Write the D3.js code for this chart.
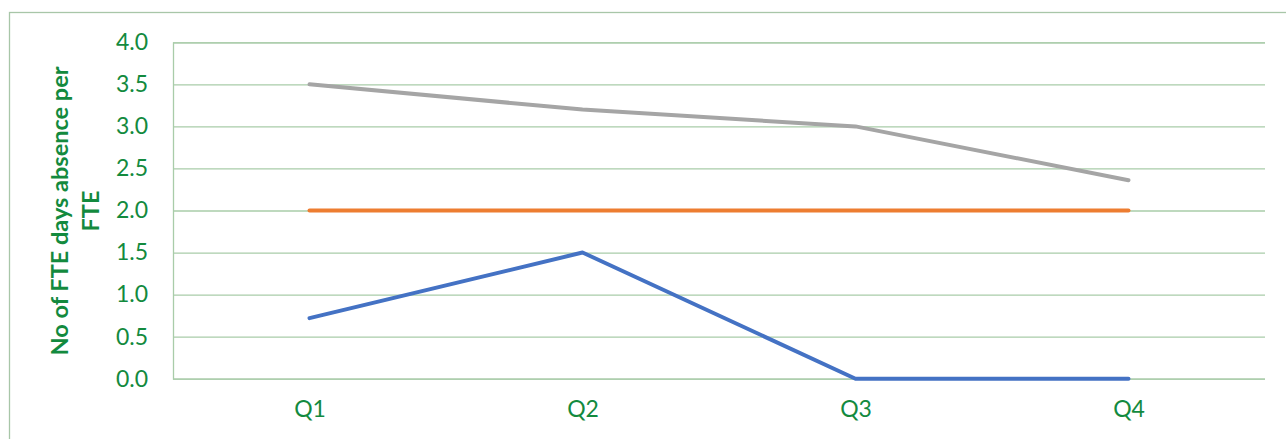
<!DOCTYPE html>
<html>
<head>
<meta charset="utf-8">
<script src="https://cdn.jsdelivr.net/npm/d3@7"></script>
<style>
  html, body { margin: 0; padding: 0; background: #fff; }
  svg { display: block; }
</style>
</head>
<body>
<svg id="chart" width="1286" height="439"></svg>
<script>
// ---- data ----
const categories = ["Q1", "Q2", "Q3", "Q4"];
const seriesBlue = [0.72, 1.5, 0, 0];
const seriesOrange = [2.0, 2.0, 2.0, 2.0];
const seriesGray = [3.5, 3.2, 3.0, 2.36];
const yTicks = [0, 0.5, 1, 1.5, 2, 2.5, 3, 3.5, 4];
const yTitleLines = ["No of FTE days absence per", "FTE"];

// ---- layout ----
const W = 1286, H = 439;
const plot = { left: 173, right: 1265, top: 42.3, bottom: 378.7 };
const textColor = "#138a3e";
const gridColor = "#a9cca9";
const font = "Lato, 'Open Sans', 'Noto Sans', sans-serif";

const svg = d3.select("#chart");

// frame
svg.append("rect")
  .attr("x", 9.5).attr("y", 12.5)
  .attr("width", 1400).attr("height", 600)
  .attr("fill", "none")
  .attr("stroke", "#a8c6a8").attr("stroke-width", 1.3);

const x = d3.scalePoint().domain(categories).range([plot.left, plot.right]).padding(0.5);
const y = d3.scaleLinear().domain([0, 4]).range([plot.bottom, plot.top]);

// gridlines
const yAxis = d3.axisLeft(y).tickValues(yTicks)
  .tickSize(-(plot.right - plot.left)).tickPadding(25)
  .tickFormat(d3.format(".1f"));
const gy = svg.append("g").attr("transform", `translate(${plot.left},0)`).call(yAxis);
gy.select(".domain").attr("stroke", gridColor).attr("stroke-width", 1.3);
gy.selectAll(".tick line").attr("stroke", gridColor).attr("stroke-width", 1.3);
gy.selectAll(".tick text")
  .attr("fill", textColor)
  .style("font-family", font).style("font-size", "23px");

// x axis labels
const xAxis = d3.axisBottom(x).tickSize(0).tickPadding(22);
const gx = svg.append("g").attr("transform", `translate(0,${plot.bottom})`).call(xAxis);
gx.select(".domain").remove();
gx.selectAll(".tick text")
  .attr("fill", textColor)
  .style("font-family", font).style("font-size", "23px");

// y title
const title = svg.append("text")
  .attr("transform", "translate(60,211) rotate(-90)")
  .attr("text-anchor", "middle")
  .attr("fill", textColor)
  .style("font-family", font).style("font-size", "23.5px").style("font-weight", "bold");
yTitleLines.forEach((t, i) => {
  title.append("tspan").attr("x", 0).attr("dy", i === 0 ? "0.35em" : "31px").text(t);
});

// lines
const line = d3.line().x((d, i) => x(categories[i])).y(d => y(d));
[
  { values: seriesGray, color: "#a5a5a5" },
  { values: seriesOrange, color: "#ed7d31" },
  { values: seriesBlue, color: "#4472c4" }
].forEach(s => {
  svg.append("path")
    .datum(s.values)
    .attr("d", line)
    .attr("fill", "none")
    .attr("stroke", s.color)
    .attr("stroke-width", 4)
    .attr("stroke-linecap", "round")
    .attr("stroke-linejoin", "round");
});
</script>
</body>
</html>
